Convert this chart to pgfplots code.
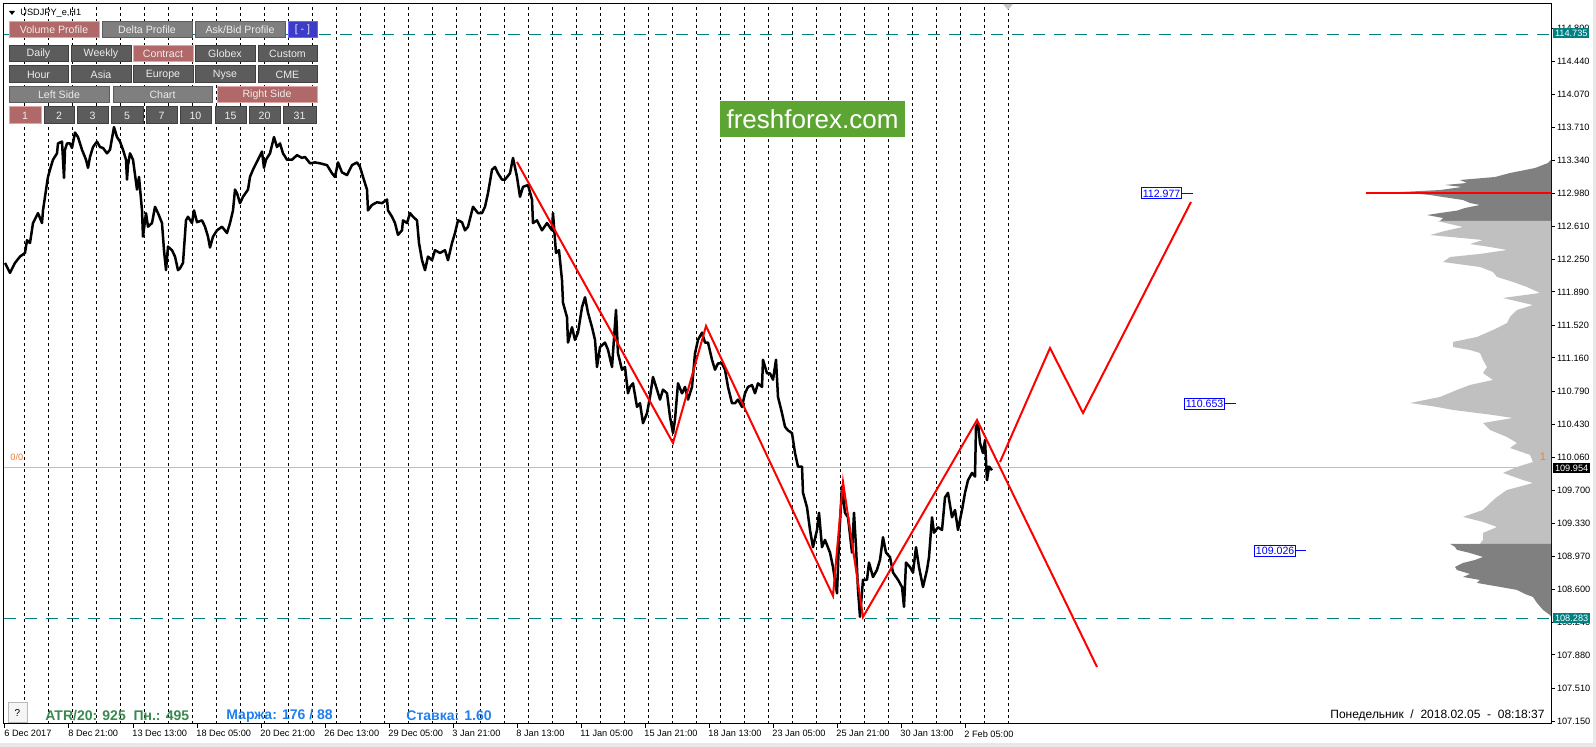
\documentclass[border=0pt]{standalone}
\usepackage{pgfplots}
\pgfplotsset{compat=1.18}
\usepackage{fontspec}
\setmainfont{Liberation Sans}
\definecolor{tealc}{HTML}{008080}
\definecolor{btnred}{HTML}{B06868}
\definecolor{btnredb}{HTML}{E2A4A4}
\definecolor{btngray}{HTML}{7F7F7F}
\definecolor{btngrayb}{HTML}{5C5C5C}
\definecolor{btndark}{HTML}{5C5C5C}
\definecolor{btndarkb}{HTML}{404040}
\definecolor{btnblue}{HTML}{3C3CC8}
\definecolor{ffgreen}{HTML}{5DA532}
\definecolor{volgray}{HTML}{C0C0C0}
\definecolor{voldark}{HTML}{808080}
\definecolor{atrgreen}{HTML}{3A8A50}
\definecolor{mblue}{HTML}{2080F0}
\definecolor{orng}{HTML}{F08030}
\newcommand{\fs}[1]{\fontsize{#1}{#1}\selectfont}
\newcommand{\btn}[7]{\filldraw[fill=#5,draw=#6,line width=0.5pt] (#1,#2) rectangle (#3,#4);
  \node[text=white!93!black,font=\fs{5.3},inner sep=0pt] at ({(#1+#3)/2},{(#2+#4)/2}) {#7};}
\begin{document}
\begin{tikzpicture}
\fill[white] (0,0) rectangle (798pt,373.5pt);
\begin{axis}[
  at={(2pt,11.5pt)}, anchor=south west,
  scale only axis, width=773.5pt, height=360pt,
  xmin=4, xmax=1551, ymin=107.117, ymax=115.070,
  axis line style={black, line width=0.5pt},
  tick align=outside, major tick length=2pt,
  tick style={black, line width=0.5pt},
  xtick pos=bottom, ytick pos=right, yticklabel pos=right,
  xtick={5,69,...,965},
  xticklabels={6 Dec 2017,8 Dec 21:00,13 Dec 13:00,18 Dec 05:00,20 Dec 21:00,26 Dec 13:00,29 Dec 05:00,3 Jan 21:00,8 Jan 13:00,11 Jan 05:00,15 Jan 21:00,18 Jan 13:00,23 Jan 05:00,25 Jan 21:00,30 Jan 13:00,2 Feb 05:00},
  xticklabel style={anchor=north west, inner sep=0pt, yshift=-1pt, xshift=-0.5pt, font=\fs{4.6}},
  ytick={114.8,114.44,114.07,113.71,113.34,112.98,112.61,112.25,111.89,111.52,111.16,110.79,110.43,110.06,109.70,109.33,108.97,108.60,108.24,107.88,107.51,107.15},
  yticklabels={114.800,114.440,114.070,113.710,113.340,112.980,112.610,112.250,111.890,111.520,111.160,110.790,110.430,110.060,109.700,109.330,108.970,108.600,108.240,107.880,107.510,107.150},
  yticklabel style={anchor=west, inner sep=0pt, xshift=0.8pt, font=\fs{4.6}},
  extra x ticks={24.5,48.5,...,1008.5},
  extra x tick labels={},
  extra x tick style={grid=major, major tick length=0pt},
  major grid style={black, line width=0.5pt, dash pattern=on 1.5pt off 1.5pt},
  /pgf/number format/assume math mode=true,
]
% volume profile
\addplot[draw=none, fill=voldark] coordinates {(1551,113.347)(1548,113.314)(1535,113.258)(1510,113.203)(1495,113.159)(1460,113.126)(1467,113.093)(1445,113.071)(1462,113.049)(1440,113.015)(1400,112.993)(1430,112.960)(1443,112.938)(1463,112.905)(1470,112.872)(1480,112.850)(1465,112.817)(1457,112.788)(1440,112.761)(1427,112.739)(1443,112.706)(1440,112.673)(1551,112.673)} -- cycle;
\addplot[draw=none, fill=volgray] coordinates {(1551,112.673)(1437,112.673)(1450,112.640)(1463,112.607)(1445,112.563)(1430,112.518)(1483,112.463)(1470,112.419)(1490,112.386)(1507,112.353)(1480,112.309)(1450,112.275)(1443,112.220)(1480,112.165)(1493,112.110)(1497,112.055)(1513,112.000)(1527,111.944)(1540,111.878)(1503,111.823)(1520,111.778)(1533,111.745)(1517,111.690)(1510,111.613)(1507,111.546)(1493,111.469)(1477,111.392)(1453,111.337)(1453,111.281)(1470,111.248)(1480,111.215)(1483,111.138)(1487,111.060)(1483,110.994)(1493,110.917)(1470,110.862)(1457,110.807)(1440,110.729)(1420,110.685)(1410,110.663)(1437,110.619)(1453,110.586)(1493,110.530)(1513,110.497)(1483,110.442)(1490,110.365)(1507,110.287)(1517,110.221)(1510,110.166)(1530,110.089)(1533,110.011)(1517,109.956)(1503,109.890)(1523,109.812)(1533,109.779)(1507,109.702)(1497,109.625)(1490,109.558)(1483,109.481)(1463,109.404)(1483,109.349)(1497,109.293)(1483,109.227)(1483,109.151)(1480,109.107)(1551,109.107)} -- cycle;
\addplot[draw=none, fill=voldark] coordinates {(1551,109.107)(1450,109.107)(1455,109.073)(1457,109.040)(1470,109.006)(1483,108.962)(1475,108.929)(1463,108.896)(1455,108.852)(1457,108.818)(1470,108.774)(1463,108.741)(1480,108.708)(1477,108.675)(1500,108.631)(1517,108.598)(1525,108.553)(1533,108.520)(1537,108.454)(1543,108.377)(1550,108.321)(1551,108.299)} -- cycle;
\addplot[red, line width=1pt] coordinates {(1366,112.98)(1551,112.98)};
% level lines
\addplot[color=gray!50, line width=0.5pt] coordinates {(4,109.954)(1551,109.954)};
\addplot[tealc, line width=0.5pt, dash pattern=on 6pt off 4.5pt] coordinates {(4,114.735)(1551,114.735)};
\addplot[tealc, line width=0.5pt, dash pattern=on 6pt off 4.5pt] coordinates {(4,108.283)(1551,108.283)};
% price
\addplot[black, line width=1.25pt, line join=round] coordinates {
(5,112.21)(10,112.10)(15,112.21)(20,112.28)(25,112.32)(27,112.46)(30,112.43)(33,112.65)(38,112.76)(42,112.65)(43,112.79)(45,112.94)(47,113.09)(48,113.16)(50,113.24)(53,113.35)(57,113.42)(58,113.53)(62,113.55)(64,113.15)(65,113.46)(67,113.53)(70,113.53)(72,113.48)(75,113.65)(78,113.60)(82,113.46)(86,113.35)(88,113.26)(90,113.38)(93,113.49)(97,113.55)(100,113.49)(103,113.48)(107,113.42)(110,113.46)(114,113.71)(117,113.60)(120,113.55)(123,113.46)(126,113.35)(127,113.13)(128,113.29)(130,113.42)(133,113.35)(137,113.02)(139,113.16)(142,112.79)(143,112.50)(146,112.76)(148,112.61)(152,112.65)(155,112.83)(158,112.76)(162,112.65)(164,112.35)(166,112.13)(168,112.39)(172,112.35)(175,112.28)(178,112.13)(180,112.15)(183,112.21)(186,112.68)(188,112.72)(192,112.65)(194,112.79)(197,112.66)(202,112.68)(205,112.61)(208,112.50)(210,112.38)(213,112.50)(217,112.57)(222,112.61)(227,112.54)(230,112.65)(233,112.79)(235,113.02)(237,112.98)(240,112.87)(243,112.94)(248,113.02)(250,113.16)(253,113.24)(258,113.35)(262,113.44)(264,113.26)(266,113.35)(270,113.42)(274,113.60)(277,113.49)(280,113.53)(283,113.42)(287,113.35)(292,113.35)(297,113.40)(302,113.37)(305,113.38)(310,113.31)(315,113.32)(320,113.31)(327,113.29)(332,113.20)(335,113.16)(338,113.32)(342,113.21)(347,113.18)(352,113.29)(357,113.32)(360,113.27)(363,113.16)(367,113.02)(368,112.79)(372,112.85)(377,112.88)(382,112.87)(387,112.91)(388,112.79)(392,112.72)(395,112.65)(398,112.52)(402,112.57)(403,112.68)(407,112.65)(410,112.76)(413,112.72)(417,112.68)(419,112.43)(422,112.24)(425,112.13)(428,112.28)(432,112.24)(435,112.35)(440,112.32)(445,112.35)(448,112.24)(452,112.43)(455,112.54)(458,112.68)(462,112.66)(465,112.57)(468,112.61)(473,112.83)(478,112.76)(482,112.76)(485,112.83)(488,112.98)(492,113.24)(495,113.27)(498,113.20)(502,113.13)(505,113.13)(510,113.20)(513,113.37)(517,113.16)(520,112.94)(523,113.05)(528,113.07)(532,112.91)(533,112.65)(537,112.68)(542,112.57)(547,112.65)(552,112.57)(553,112.76)(556,112.32)(559,112.35)(562,112.02)(563,111.77)(567,111.61)(568,111.33)(572,111.50)(575,111.36)(578,111.44)(582,111.72)(585,111.83)(588,111.66)(592,111.50)(595,111.36)(597,111.06)(600,111.28)(605,111.33)(608,111.25)(612,111.06)(616,111.69)(618,111.21)(622,111.03)(625,111.06)(628,110.77)(630,110.84)(633,110.88)(637,110.62)(640,110.66)(643,110.44)(647,110.55)(650,110.73)(653,110.95)(657,110.81)(660,110.70)(663,110.81)(667,110.77)(670,110.51)(673,110.33)(675,110.48)(678,110.88)(682,110.77)(685,110.84)(688,110.70)(692,110.84)(695,111.21)(698,111.36)(702,111.44)(705,111.33)(708,111.33)(712,111.14)(715,111.03)(718,111.10)(722,111.10)(725,111.03)(728,110.84)(732,110.66)(735,110.66)(738,110.70)(742,110.62)(745,110.77)(748,110.84)(752,110.86)(755,110.77)(758,110.88)(762,110.84)(763,111.14)(767,110.99)(770,110.99)(773,110.92)(776,111.14)(778,110.73)(782,110.55)(785,110.40)(788,110.36)(792,110.33)(795,110.11)(798,109.96)(802,109.96)(803,109.67)(807,109.51)(810,109.26)(813,109.07)(817,109.26)(819,109.45)(822,109.07)(825,109.15)(830,109.01)(833,108.85)(837,108.56)(839,109.15)(842,109.74)(845,109.45)(848,109.40)(852,109.01)(854,109.45)(856,109.07)(858,108.60)(860,108.30)(863,108.71)(867,108.71)(869,108.90)(873,108.74)(877,108.82)(880,108.93)(883,109.18)(886,109.01)(890,108.96)(893,108.79)(898,108.71)(902,108.63)(904,108.41)(906,108.90)(910,108.85)(913,108.79)(916,109.07)(919,108.85)(923,108.63)(927,108.82)(929,108.96)(932,109.40)(934,109.23)(938,109.29)(942,109.26)(945,109.62)(948,109.67)(952,109.40)(955,109.48)(958,109.26)(962,109.48)(965,109.67)(968,109.81)(972,109.89)(975,109.85)(976,110.40)(978,110.44)(980,110.22)(983,110.11)(985,110.25)(987,109.81)(989,109.96)(992,109.92)};
% red zigzag
\addplot[red, line width=1pt] coordinates {(517,113.325)(673,110.221)(706,111.513)(833,108.531)(843,109.790)(863,108.299)(977,110.475)(1097,107.747)};
\addplot[red, line width=1pt] coordinates {(1000,110.011)(1050,111.270)(1083,110.552)(1191,112.883)};
\end{axis}
\begin{scope}[x=0.5pt,y=-0.5pt,yshift=373.5pt]
% borders
\fill[gray!18] (0,743) rectangle (1596,747);
\fill[gray!18] (1593,0) rectangle (1596,747);
% top marker
\fill[gray!45] (1003,4) -- (1013,4) -- (1008,10) -- cycle;
% title
\fill[black] (9,11) -- (15,11) -- (12,15) -- cycle;
\node[anchor=west,font=\fs{4.6},inner sep=0pt] at (20,13) {USDJPY\_e,H1};
% buttons
\btn{9}{22}{99}{38}{btnred}{btnredb}{Volume Profile}
\btn{102}{22}{192}{38}{btngray}{btngrayb}{Delta Profile}
\btn{195}{22}{285}{38}{btngray}{btngrayb}{Ask/Bid Profile}
\btn{288}{22}{317}{38}{btnblue}{blue!60!white}{[ - ]}
\btn{9}{46}{68}{62}{btndark}{btndarkb}{Daily}
\btn{71}{46}{131}{62}{btndark}{btndarkb}{Weekly}
\btn{133}{46}{193}{62}{btnred}{btnredb}{Contract}
\btn{195}{46}{255}{62}{btndark}{btndarkb}{Globex}
\btn{258}{46}{317}{62}{btndark}{btndarkb}{Custom}
\btn{9}{66}{68}{83}{btndark}{btndarkb}{Hour}
\btn{71}{66}{131}{83}{btndark}{btndarkb}{Asia}
\btn{133}{66}{193}{83}{btndark}{btndarkb}{Europe}
\btn{195}{66}{255}{83}{btndark}{btndarkb}{Nyse}
\btn{258}{66}{317}{83}{btndark}{btndarkb}{CME}
\btn{9}{87}{109}{103}{btngray}{btngrayb}{Left Side}
\btn{113}{87}{212}{103}{btngray}{btngrayb}{Chart}
\btn{217}{87}{317}{103}{btnred}{btnredb}{Right Side}
\btn{9}{107}{41}{124}{btnred}{btnredb}{1}
\btn{44}{107}{74}{124}{btndark}{btndarkb}{2}
\btn{77}{107}{108}{124}{btndark}{btndarkb}{3}
\btn{111}{107}{143}{124}{btndark}{btndarkb}{5}
\btn{146}{107}{177}{124}{btndark}{btndarkb}{7}
\btn{180}{107}{211}{124}{btndark}{btndarkb}{10}
\btn{215}{107}{246}{124}{btndark}{btndarkb}{15}
\btn{249}{107}{280}{124}{btndark}{btndarkb}{20}
\btn{283}{107}{316}{124}{btndark}{btndarkb}{31}
% freshforex
\fill[ffgreen] (720,101) rectangle (905,137);
\node[text=white,font=\fs{13},inner sep=0pt] at (812.5,119) {freshforex.com};
% orange markers
\node[text=orng,font=\fs{4.6},anchor=west,inner sep=0pt] at (10,457) {0/0};
\node[text=orng,font=\fs{5.5},inner sep=0pt] at (1543,457) {1};
% blue labels
\draw[blue,line width=0.5pt] (1182,193.5) -- (1193,193.5);
\node[draw=blue,text=blue,fill=white,line width=0.5pt,inner xsep=0.6pt,inner ysep=0pt,minimum height=5.5pt,font=\fs{5.3},anchor=east] at (1182,193.5) {112.977};
\draw[blue,line width=0.5pt] (1225,404) -- (1236,404);
\node[draw=blue,text=blue,fill=white,line width=0.5pt,inner xsep=0.6pt,inner ysep=0pt,minimum height=5.5pt,font=\fs{5.3},anchor=east] at (1225,404) {110.653};
\draw[blue,line width=0.5pt] (1296,551) -- (1306,551);
\node[draw=blue,text=blue,fill=white,line width=0.5pt,inner xsep=0.6pt,inner ysep=0pt,minimum height=5.5pt,font=\fs{5.3},anchor=east] at (1296,551) {109.026};
% right price tags
\node[fill=tealc,text=white,font=\fs{4.6},anchor=west,inner xsep=0.8pt,inner ysep=0pt,minimum height=5.2pt] at (1553,33) {114.735};
\node[fill=black,text=white,font=\fs{4.6},anchor=west,inner xsep=0.8pt,inner ysep=0pt,minimum height=5.2pt] at (1553,468) {109.954};
\node[fill=tealc,text=white,font=\fs{4.6},anchor=west,inner xsep=0.8pt,inner ysep=0pt,minimum height=5.2pt] at (1553,618) {108.283};
% bottom texts
\filldraw[fill=gray!8,draw=gray!55,line width=0.5pt] (8,703) rectangle (27,723);
\node[font=\fs{5},inner sep=0pt] at (17.5,713) {?};
\node[anchor=west,font=\bfseries\fs{7},text=atrgreen,inner sep=0pt] at (45,716) {ATR/20: 925\ \ Пн.: 495};
\node[anchor=west,font=\bfseries\fs{7},text=mblue,inner sep=0pt] at (226,716) {Маржа: 176 / 88};
\node[anchor=west,font=\bfseries\fs{7},text=mblue,inner sep=0pt] at (406,716) {Ставка: 1.60};
\node[anchor=east,font=\fs{6},inner sep=0pt] at (1545,715) {Понедельник\ \ /\ \ 2018.02.05\ \ -\ \ 08:18:37};
\end{scope}
\pgfresetboundingbox
\path[use as bounding box] (0,0) rectangle (798pt,373.5pt);
\end{tikzpicture}
\end{document}
